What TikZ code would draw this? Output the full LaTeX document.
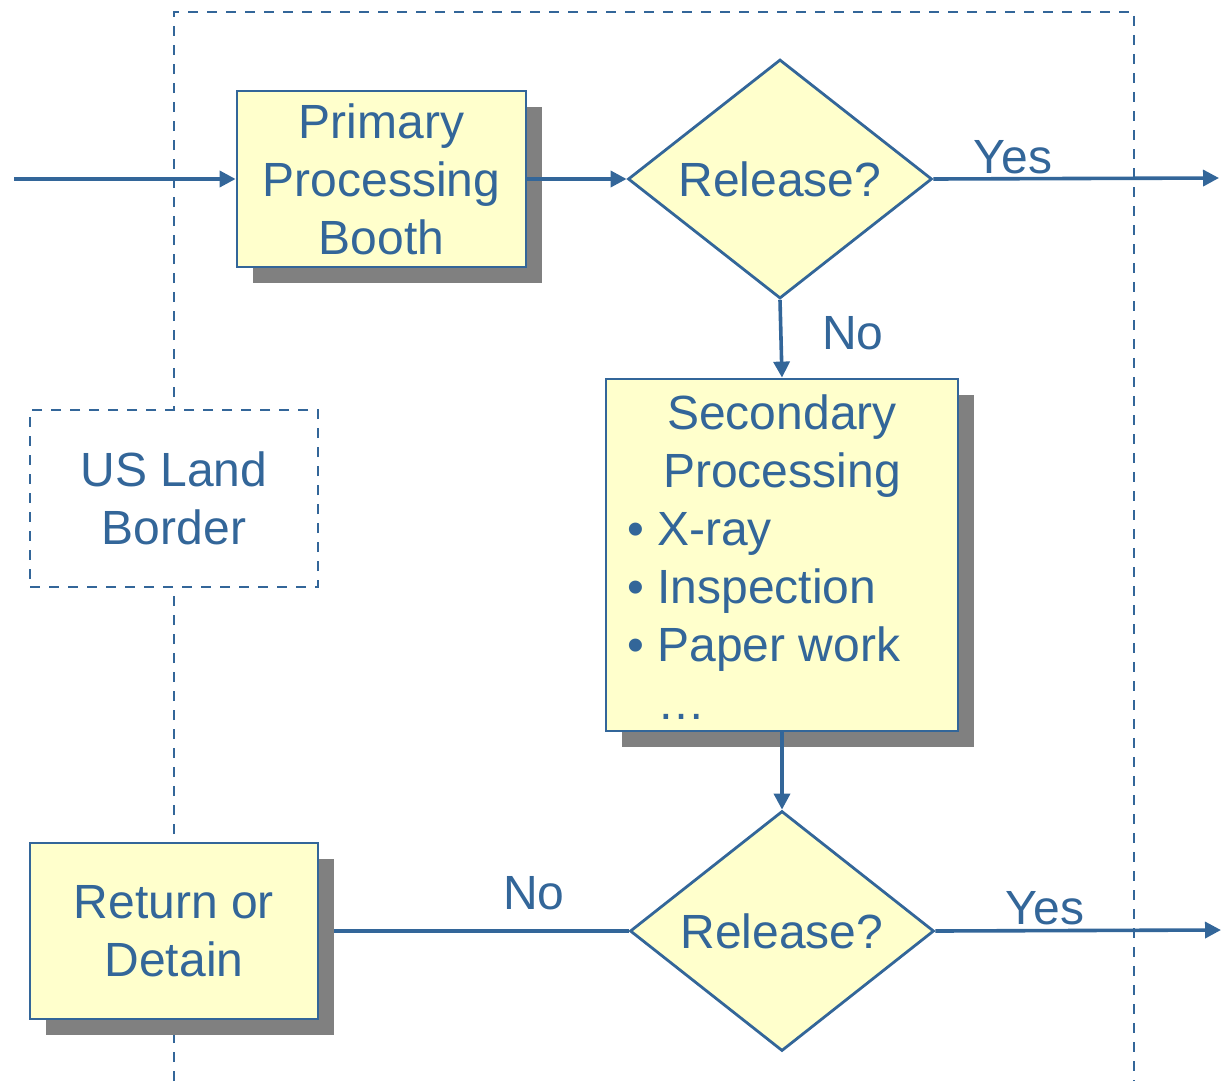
\documentclass[tikz,border=0pt]{standalone}
\usepackage{fontspec}
\setmainfont{Liberation Sans}
\usetikzlibrary{shapes.geometric,arrows.meta,shadows}
\definecolor{flowblue}{HTML}{336699}
\definecolor{boxfill}{HTML}{FFFFCC}
\definecolor{shadowgray}{HTML}{808080}
\begin{document}
\begin{tikzpicture}[x=1pt,y=-1pt,
  every node/.style={text=flowblue, font=\fontsize{48}{58}\selectfont},
  procbox/.style={draw=flowblue, line width=2.8pt, fill=boxfill, inner sep=0pt,
    align=center,
    drop shadow={shadow xshift=16pt, shadow yshift=-16pt, fill=shadowgray, opacity=1}},
  decision/.style={diamond, draw=flowblue, line width=2.8pt, fill=boxfill, inner sep=0pt},
  boundary/.style={draw=flowblue, line width=2.6pt, dash pattern=on 10pt off 9pt},
  flow/.style={draw=flowblue, line width=3.6pt, -{Triangle[length=16pt,width=16pt]}},
  plainflow/.style={draw=flowblue, line width=3.6pt},
  lbl/.style={inner sep=0pt}]
\useasboundingbox (0,0) rectangle (1222,1081);

% border of the inspection area (open at the bottom)
\draw[boundary] (174,1081) -- (174,12) -- (1134,12) -- (1134,1081);

% boxes
\node[procbox, minimum width=289pt, minimum height=176pt] (primary) at (381.5,179)
  {Primary\\Processing\\Booth};
\node[decision, minimum width=304pt, minimum height=239pt] (rel1) at (780,179) {Release?};
\node[procbox, minimum width=352pt, minimum height=352pt] (secondary) at (782,555) {};
\node[lbl, align=center] (sectitle) at (782,446) {Secondary\\Processing};
\node[lbl, align=left, anchor=west] (seclist) at (627,616)
  {• X-ray\\• Inspection\\• Paper work\\\phantom{• }…};
\node[decision, minimum width=304pt, minimum height=240pt] (rel2) at (782,931) {Release?};
\node[procbox, minimum width=288pt, minimum height=176pt] (ret) at (174,931)
  {Return or\\Detain};
\node[boundary, fill=white, minimum width=288pt, minimum height=177pt, inner sep=0pt,
  align=center] (border) at (174,498.5) {US Land\\Border};

% free ends of the connectors
\coordinate (in0) at (14,179);
\coordinate (out1) at (1219,178);
\coordinate (out2) at (1221,930);
\coordinate (retedge) at (334,931);

% connectors
\draw[flow] (in0) -- (primary.west);
\draw[flow] (primary.east) -- (rel1.west);
\draw[flow] (rel1.east) -- (out1);
\draw[flow] (rel1.south) -- (secondary.north);
\draw[flow] (secondary.south) -- (rel2.north);
\draw[plainflow] (rel2.west) -- (retedge);
\draw[flow] (rel2.east) -- (out2);

% connector labels
\node[lbl] (yes1) at (1013,157) {Yes};
\node[lbl] (no1) at (853,333) {No};
\node[lbl] (no2) at (534,893) {No};
\node[lbl] (yes2) at (1045,908) {Yes};
\end{tikzpicture}
\end{document}
